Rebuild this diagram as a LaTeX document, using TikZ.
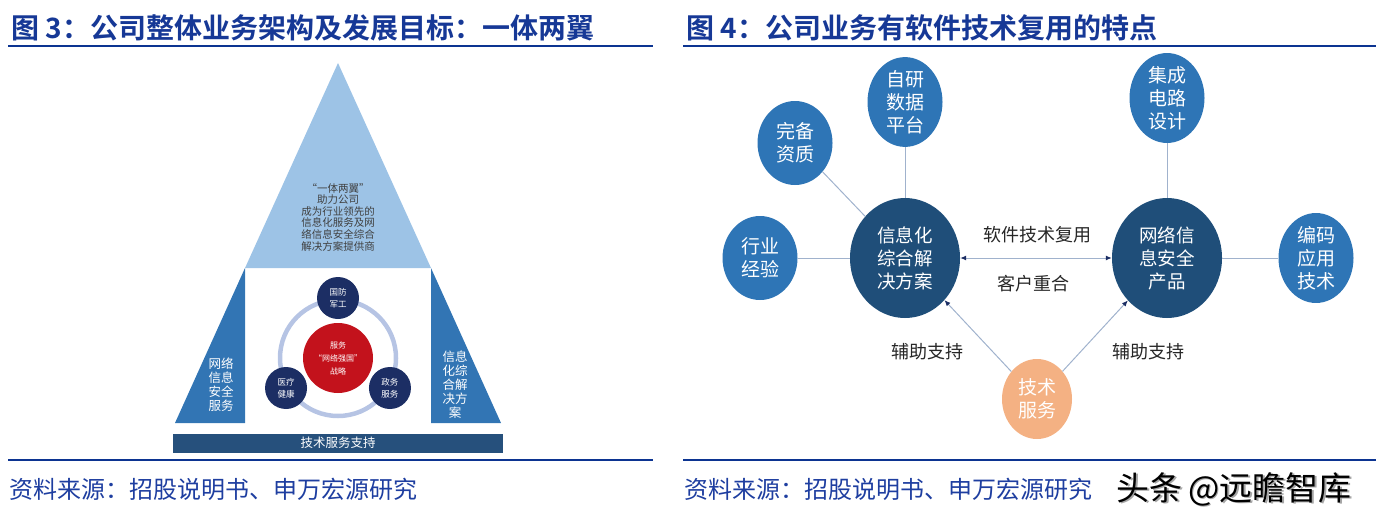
\documentclass[tikz,border=0pt]{standalone}
\usepackage{fontspec}
\setmainfont{Noto Sans CJK SC}[BoldFont={Noto Sans CJK SC Bold}]
\usetikzlibrary{shapes.geometric,arrows.meta}

\definecolor{titleblue}{RGB}{22,56,150}
\definecolor{srcblue}{RGB}{30,62,160}
\definecolor{ruleblue}{RGB}{12,52,145}
\definecolor{paleblue}{RGB}{157,195,230}
\definecolor{wingblue}{RGB}{50,117,180}
\definecolor{barblue}{RGB}{38,80,124}
\definecolor{navy}{RGB}{28,46,100}
\definecolor{ringgrey}{RGB}{182,196,228}
\definecolor{stratred}{RGB}{195,18,28}
\definecolor{midblue}{RGB}{46,117,182}
\definecolor{deepblue}{RGB}{31,78,121}
\definecolor{peach}{RGB}{244,177,131}
\definecolor{linkgrey}{RGB}{160,178,205}

\begin{document}
\begin{tikzpicture}[x=1pt,y=-1pt,
  title/.style={anchor=west, text=titleblue, font=\fontsize{28}{30}\selectfont\bfseries},
  source/.style={anchor=west, text=srcblue, font=\fontsize{24}{26}\selectfont},
  pyrtext/.style={align=center, text=black!75, font=\fontsize{10.5}{11.6}\selectfont},
  wingtext/.style={align=center, text=white, font=\fontsize{12.5}{14}\selectfont},
  hub/.style={circle, fill=navy, minimum size=42pt, inner sep=0pt, text=white, align=center, font=\fontsize{8.5}{12}\selectfont},
  bubble/.style={ellipse, fill=midblue, minimum width=75pt, minimum height=84pt, inner sep=0pt, text=white, align=center, font=\fontsize{19}{23}\selectfont},
  core/.style={ellipse, fill=deepblue, minimum width=110pt, minimum height=120pt, inner sep=0pt, text=white, align=center, font=\fontsize{18.5}{23}\selectfont},
  note/.style={text=black!85, font=\fontsize{18}{20}\selectfont},
  link/.style={linkgrey, line width=1pt},
  tip/.style={-{Latex[length=6pt,width=5pt,color=navy]}}]
  \useasboundingbox (0,0) rectangle (1386,519);

  % Titles and rules
  \node[title] (leftTitle) at (8,28) {图 3：公司整体业务架构及发展目标：一体两翼};
  \node[title] (rightTitle) at (683,28) {图 4：公司业务有软件技术复用的特点};
  \draw[ruleblue, line width=1.5pt] (8,46) -- (653,46);
  \draw[ruleblue, line width=1.5pt] (683,46) -- (1376,46);
  \draw[ruleblue, line width=2.5pt] (8,460) -- (653,460);
  \draw[ruleblue, line width=2.5pt] (683,460) -- (1376,460);
  \node[source] (leftSource) at (6,489) {资料来源：招股说明书、申万宏源研究};
  \node[source] (rightSource) at (681,489) {资料来源：招股说明书、申万宏源研究};
  \node[anchor=west, text=black!35, font=\fontsize{33}{35}\selectfont] (markShadow) at (1114.8,490.2) {头条\,@远瞻智库};
  \node[anchor=west, text=black, font=\fontsize{33}{35}\selectfont] (mark) at (1113,489) {头条\,@远瞻智库};

  % Pyramid: top and two wings
  \fill[paleblue] (338,63) -- (245,268) -- (431,268) -- cycle;
  \fill[wingblue] (245,268) -- (175,423) -- (245,423) -- cycle;
  \fill[wingblue] (431,268) -- (501,423) -- (431,423) -- cycle;
  \node[pyrtext] (goal) at (338,217) {“一体两翼”\\助力公司\\成为行业领先的\\信息化服务及网\\络信息安全综合\\解决方案提供商};
  \node[wingtext] (security) at (221,385) {网络\\信息\\安全\\服务};
  \node[wingtext] (infoWing) at (455,385) {信息\\化综\\合解\\决方\\案};

  % Strategy ring
  \draw[ringgrey, line width=4.5pt] (338,358) circle (58pt);
  \node[circle, fill=stratred, minimum size=70pt, inner sep=0pt, text=white, align=center,
        font=\fontsize{8}{13}\selectfont] (strategy) at (338,358) {服务\\“网络强国”\\战略};
  \foreach \ang/\name/\txt in {90/defense/国防\\军工, 210/health/医疗\\健康, 330/gov/政务\\服务} {
    \node[hub] (\name) at ({338+60*cos(\ang)},{358-60*sin(\ang)}) {\txt};
  }

  % Base bar
  \node[fill=barblue, minimum width=330pt, minimum height=19pt, inner sep=0pt, text=white,
        font=\fontsize{12.5}{14}\selectfont] (techBar) at (338,443) {技术服务支持};

  % Software reuse graph
  \node[core] (solution) at (905,258) {信息化\\综合解\\决方案};
  \node[core] (product) at (1167,258) {网络信\\息安全\\产品};
  \node[bubble] (platform) at (905,102) {自研\\数据\\平台};
  \node[bubble] (quali) at (795,143) {完备\\资质};
  \node[bubble] (industry) at (760,258) {行业\\经验};
  \node[bubble] (circuit) at (1167,98) {集成\\电路\\设计};
  \node[bubble] (coding) at (1316,258) {编码\\应用\\技术};
  \node[ellipse, fill=peach, minimum width=70pt, minimum height=80pt, inner sep=0pt, text=white,
        align=center, font=\fontsize{19}{23}\selectfont] (service) at (1037,399) {技术\\服务};

  \draw[link] (platform) -- (solution);
  \draw[link] (quali) -- (solution);
  \draw[link] (industry) -- (solution);
  \draw[link] (circuit) -- (product);
  \draw[link] (coding) -- (product);
  \draw[link, {Latex[length=6pt,width=5pt,color=navy]}-{Latex[length=6pt,width=5pt,color=navy]}] (solution) -- (product);
  \draw[link, tip] (service) -- (solution);
  \draw[link, tip] (service) -- (product);

  \node[note] (reuse) at (1037,235) {软件技术复用};
  \node[note] (overlap) at (1033,284) {客户重合};
  \node[note] (assistL) at (927,352) {辅助支持};
  \node[note] (assistR) at (1148,352) {辅助支持};
\end{tikzpicture}
\end{document}
